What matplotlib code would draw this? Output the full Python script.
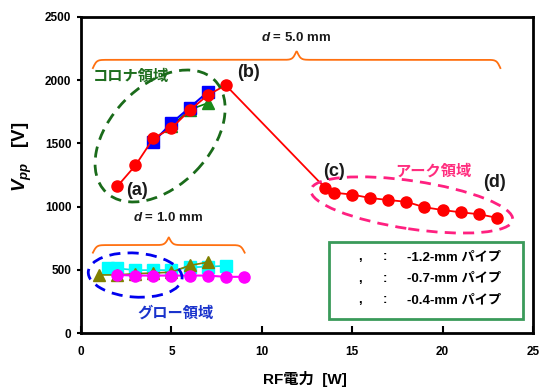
import numpy as np
import matplotlib
matplotlib.use("Agg")
import matplotlib.pyplot as plt
from matplotlib.patches import Ellipse, Rectangle
from matplotlib.transforms import ScaledTranslation

plt.rcParams['font.family'] = ['Liberation Sans', 'Noto Sans CJK JP']
plt.rcParams['font.weight'] = 'bold'
plt.rcParams['axes.labelweight'] = 'bold'
plt.rcParams['mathtext.fontset'] = 'custom'
plt.rcParams['mathtext.it'] = 'Liberation Sans:italic:bold'
plt.rcParams['mathtext.rm'] = 'Liberation Sans:bold'
plt.rcParams['mathtext.bf'] = 'Liberation Sans:bold'

# d = 5.0 mm
red_x = [2, 3, 4, 5, 6, 7, 8, 13.5, 14, 15, 16, 17, 18, 19, 20, 21, 22, 23]
red_y = [1160, 1325, 1540, 1620, 1760, 1880, 1960,
         1148, 1110, 1095, 1068, 1052, 1038, 995, 973, 955, 940, 912]
blue_x = [4, 5, 6, 7]
blue_y = [1512, 1660, 1782, 1905]
green_x = [4, 5, 6, 7]
green_y = [1530, 1635, 1765, 1818]

# d = 1.0 mm
olive_x = [1, 2, 3, 4, 5, 6, 7]
olive_y = [460, 460, 470, 475, 482, 535, 560]
cyan_x = [1.5, 2, 3, 4, 5, 6, 7, 8]
cyan_y = [512, 512, 498, 498, 498, 520, 525, 532]
mag_x = [2, 3, 4, 5, 6, 7, 8, 9]
mag_y = [460, 455, 455, 455, 455, 455, 445, 445]

legend_lines = ['-1.2-mm パイプ', '-0.7-mm パイプ', '-0.4-mm パイプ']

fig = plt.figure(figsize=(5.41, 3.91), dpi=100)
ax = fig.add_axes([0.150, 0.148, 0.835, 0.809])

ax.plot(blue_x, blue_y, color='#0000ff', lw=1.5, marker='s', ms=8, mfc='#0000ff', mec='#0000ff', zorder=3)
ax.plot(green_x, green_y, color='#008000', lw=1.2, marker='^', ms=8, mfc='#1a8a1a', mec='#1a8a1a', zorder=2)
ax.plot(red_x, red_y, color='#ff0000', lw=1.3, marker='o', ms=8, mfc='#ff0000', mec='#ff0000', zorder=4)

ax.plot(olive_x, olive_y, color='#808000', lw=1.2, marker='^', ms=8, mfc='#808000', mec='#808000', zorder=2)
ax.plot(cyan_x, cyan_y, color='#00e5e5', lw=1.2, marker='s', ms=8, mfc='#00ffff', mec='#00ffff', zorder=1)
ax.plot(mag_x, mag_y, color='#ff00ff', lw=1.5, marker='o', ms=8, mfc='#ff00ff', mec='#ff00ff', zorder=3)

ax.set_xlim(0, 25)
ax.set_ylim(0, 2500)
ax.set_xticks([0, 5, 10, 15, 20, 25])
ax.set_yticks([0, 500, 1000, 1500, 2000, 2500])
ax.tick_params(axis='x', direction='in', length=5, width=1.5, labelsize=8.5, pad=9)
ax.tick_params(axis='y', direction='out', length=3, width=1.5, labelsize=8.5, pad=4)
for s in ax.spines.values():
    s.set_linewidth(2)

ax.set_xlabel('RF電力  [W]', fontsize=11, fontweight='bold')
ax.set_ylabel(r'$\it{V}_{\it{pp}}$   [V]', fontsize=13.5, fontweight='bold')
ax.xaxis.set_label_coords(0.496, -0.12)
ax.yaxis.set_label_coords(-0.105, 0.557)


def brace(x0, x1, y, h, beta):
    t = np.linspace(0, 0.5, 300)
    half = 1 / (1 + np.exp(-beta * t)) + 1 / (1 + np.exp(-beta * (t - 0.5)))
    yy = np.concatenate([half, half[::-1]])
    xx = np.linspace(x0, x1, yy.size)
    ax.plot(xx, y + (yy - 1) * h, color='#ff7010', lw=1.3, zorder=1)


brace(0.65, 23.2, 2160, 130, 220)
brace(0.65, 9.05, 696, 120, 80)


def ring(cx, cy, w, h, ang, color):
    tr = fig.dpi_scale_trans + ScaledTranslation(cx, cy, ax.transData)
    e = Ellipse((0, 0), w, h, angle=ang, transform=tr, fill=False,
                edgecolor=color, lw=2, linestyle=(0, (4, 2.6)), zorder=5)
    ax.add_patch(e)


ring(4.37, 1558, 1.56, 1.0, 46, '#1a6b1a')
ring(2.99, 459, 0.94, 0.44, -4, '#0000ee')
ring(18.3, 1013, 2.04, 0.48, -8.5, '#ff2080')

ax.text(3.1, 1131, '(a)', fontsize=13, ha='center', va='center', color='#1a1a1a')
ax.text(9.24, 2057, '(b)', fontsize=13, ha='center', va='center', color='#1a1a1a')
ax.text(14.0, 1274, '(c)', fontsize=13, ha='center', va='center', color='#1a1a1a')
ax.text(22.9, 1187, '(d)', fontsize=13, ha='center', va='center', color='#1a1a1a')

ax.text(2.75, 2025, 'コロナ領域', fontsize=11, ha='center', va='center', color='#1e6e1e', style='italic')
ax.text(5.2, 158, 'グロー領域', fontsize=11, ha='center', va='center', color='#1a33cc', style='italic')
ax.text(19.47, 1282, 'アーク領域', fontsize=11, ha='center', va='center', color='#ff2d7e', style='italic')

ax.text(11.9, 2334, r'$\it{d}$ = 5.0 mm', fontsize=9.5, ha='center', va='center', color='#1a1a1a')
ax.text(4.8, 910, r'$\it{d}$ = 1.0 mm', fontsize=9.5, ha='center', va='center', color='#1a1a1a')

# legend box (markers are missing in the original)
fig.patches.append(Rectangle((329 / 541, 1 - 319 / 391), 194 / 541, 77 / 391,
                             transform=fig.transFigure, fill=False,
                             edgecolor='#3a9a5a', lw=2))
for i, lab in enumerate(legend_lines):
    yy = 1 - (257 + 21.5 * i) / 391
    fig.text(360 / 541, yy, ',', fontsize=9.5, ha='center', va='center')
    fig.text(385 / 541, yy, ':', fontsize=9.5, ha='center', va='center')
    fig.text(407 / 541, yy, lab, fontsize=9.5, ha='left', va='center')

fig.savefig('out.png', dpi=100)
